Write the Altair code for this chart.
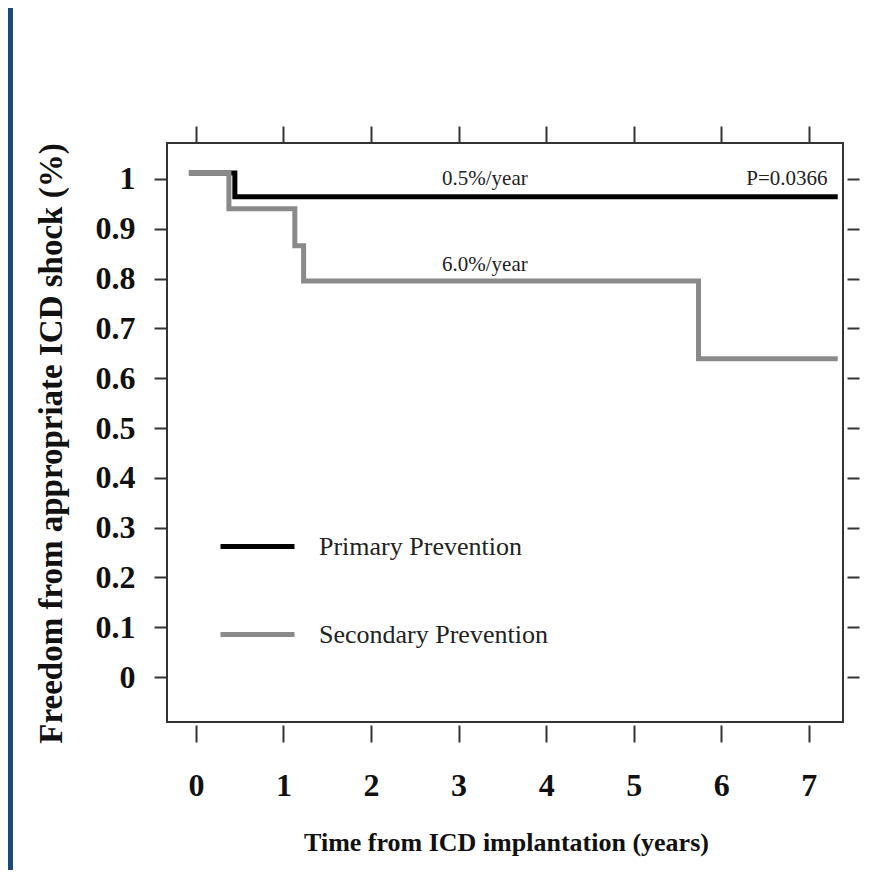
import altair as alt
import pandas as pd

# ---- data ----
groups = ["Primary Prevention", "Secondary Prevention"]
group_colors = ["#000000", "#8a8a8a"]

primary_t = [-0.08, 0.445, 7.33]
primary_s = [1.012, 0.964, 0.964]
secondary_t = [-0.08, 0.377, 1.13, 1.23, 5.74, 7.33]
secondary_s = [1.012, 0.94, 0.866, 0.795, 0.639, 0.639]

x_ticks = [0, 1, 2, 3, 4, 5, 6, 7]
y_ticks = [0, 0.1, 0.2, 0.3, 0.4, 0.5, 0.6, 0.7, 0.8, 0.9, 1.0]

ann_text = ["0.5%/year", "P=0.0366", "6.0%/year"]
ann_x = [3.3, 6.75, 3.3]
ann_y = [1.0, 1.0, 0.827]

x_title = "Time from ICD implantation (years)"
y_title = "Freedom from appropriate ICD shock (%)"

# ---- tables ----
rows = []
for t, s in zip(primary_t, primary_s):
    rows.append({"t": t, "s": s, "group": groups[0]})
for t, s in zip(secondary_t, secondary_s):
    rows.append({"t": t, "s": s, "group": groups[1]})
curves = pd.DataFrame(rows)
ann = pd.DataFrame({"label": ann_text, "t": ann_x, "s": ann_y})

SERIF = "Liberation Serif"
W, H = 676, 579
xs = alt.Scale(domain=[-0.33, 7.39], nice=False, zero=False)
ys = alt.Scale(domain=[-0.09, 1.072], nice=False, zero=False)

lines = alt.Chart(curves).mark_line(interpolate="step-after", strokeWidth=5).encode(
    x=alt.X("t:Q", scale=xs, axis=alt.Axis(
        orient="bottom", values=x_ticks, format="d", title=x_title,
        offset=3, tickSize=17, tickWidth=2, tickColor="#333", domain=False, grid=False,
        labelFont=SERIF, labelFontSize=32, labelFontWeight="bold", labelColor="#111",
        labelPadding=28,
        titleFont=SERIF, titleFontSize=26, titleFontWeight="bold", titleColor="#111",
        titleX=339, titleY=125, titleBaseline="alphabetic", titleAlign="center")),
    y=alt.Y("s:Q", scale=ys, axis=alt.Axis(
        orient="left", values=y_ticks, format=".1~f", title=y_title,
        tickSize=13, tickWidth=2, tickColor="#333", domain=False, grid=False,
        labelFont=SERIF, labelFontSize=32, labelFontWeight="bold", labelColor="#111",
        labelPadding=19,
        titleFont=SERIF, titleFontSize=33, titleFontWeight="bold", titleColor="#111",
        titleX=-116, titleY=300, titleAngle=270, titleBaseline="middle", titleAlign="center")),
    color=alt.Color("group:N", scale=alt.Scale(domain=groups, range=group_colors),
                    legend=alt.Legend(title=None, orient="none", legendX=51, legendY=364,
                                      symbolType="stroke", symbolSize=5476, symbolStrokeWidth=5,
                                      labelFont=SERIF, labelFontSize=26, labelColor="#222",
                                      labelLimit=0, labelOffset=22, rowPadding=35, padding=0)),
    order=alt.Order("t:Q"),
)

texts = alt.Chart(ann).mark_text(font=SERIF, fontSize=21, color="#222", baseline="middle").encode(
    x=alt.X("t:Q", scale=xs, axis=alt.Axis(
        orient="top", values=x_ticks, labels=False, title=None, domain=False, grid=False,
        tickSize=17, tickWidth=2, tickColor="#333")),
    y=alt.Y("s:Q", scale=ys, axis=alt.Axis(
        orient="right", values=y_ticks, labels=False, title=None, domain=False, grid=False,
        offset=4, tickSize=12, tickWidth=2, tickColor="#333")),
    text="label:N",
)

strip = alt.Chart(alt.Data(values=[{}])).mark_rect(color="#1F497D").encode(
    x=alt.value(-159), x2=alt.value(-154), y=alt.value(-135), y2=alt.value(727))

chart = alt.layer(strip, lines, texts).resolve_axis(x="independent", y="independent").properties(
    width=W, height=H,
    autosize=alt.AutoSizeParams(type="none"),
    padding={"left": 159, "top": 135, "right": 18, "bottom": 148},
    background="white",
).configure_view(stroke="#333", strokeWidth=2)

chart.save("out.html", embed_options={"renderer": "svg", "actions": False})
